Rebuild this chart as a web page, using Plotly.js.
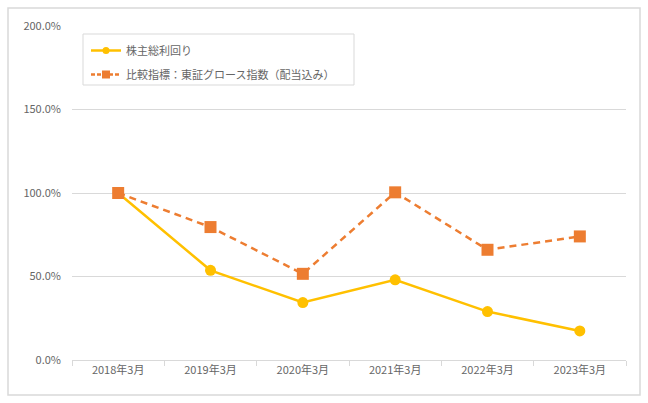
<!DOCTYPE html>
<html>
<head>
<meta charset="utf-8">
<script src="https://cdn.plot.ly/plotly-3.0.1.min.js"></script>
<style>
  html, body { margin: 0; padding: 0; background: #fff; }
  #chart { width: 648px; height: 403px; }
</style>
</head>
<body>
<div id="chart"></div>
<script>
// Categories (fiscal year end) and the two index series, in percent
const periods = ["2018年3月", "2019年3月", "2020年3月", "2021年3月", "2022年3月", "2023年3月"];
const tsrValues = [100, 53.7, 34.4, 48.0, 29.0, 17.4];
const benchmarkValues = [100, 79.6, 51.6, 100.4, 66.0, 74.0];
const yTicks = [0, 50, 100, 150, 200];
const yTickText = yTicks.map((v) => v.toFixed(1) + "%");

const tsrName = "株主総利回り";
const benchName = "比較指標：東証グロース指数（配当込み）";

const FONT = "'Noto Sans CJK JP', 'Noto Sans', sans-serif";
const TEXT = "#666666";
const GRID = "#D9D9D9";
const YELLOW = "#FFC000";
const ORANGE = "#ED7D31";

// plot area in pixels, used to place frame boxes in paper coords
const W = 648, H = 403;
const margin = { l: 72, r: 22, t: 26, b: 43 };
const pw = W - margin.l - margin.r;
const ph = H - margin.t - margin.b;
const px = (x) => (x - margin.l) / pw;
const py = (y) => (H - margin.b - y) / ph;

const traces = [
  {
    x: periods,
    y: tsrValues,
    name: tsrName,
    mode: "lines+markers",
    line: { color: YELLOW, width: 2.5 },
    marker: { symbol: "circle", size: 11, color: YELLOW },
    showlegend: false,
  },
  {
    x: periods,
    y: benchmarkValues,
    name: benchName,
    mode: "lines+markers",
    line: { color: ORANGE, width: 2.5, dash: "7px,5px" },
    marker: { symbol: "square", size: 12, color: ORANGE },
    showlegend: false,
  },
  // legend-only entries with smaller symbols, like the spreadsheet legend
  {
    x: [null], y: [null], name: tsrName, legendgroup: "a",
    mode: "lines+markers",
    line: { color: YELLOW, width: 2.5 },
    marker: { symbol: "circle", size: 7, color: YELLOW },
  },
  {
    x: [null], y: [null], name: benchName, legendgroup: "b",
    mode: "lines+markers",
    line: { color: ORANGE, width: 2.5, dash: "4px,2px" },
    marker: { symbol: "square", size: 8, color: ORANGE },
  },
];

const layout = {
  width: W,
  height: H,
  margin: margin,
  paper_bgcolor: "#fff",
  plot_bgcolor: "#fff",
  font: { family: FONT, color: TEXT, size: 11 },
  showlegend: true,
  legend: {
    x: px(86),
    y: py(36),
    xanchor: "left",
    yanchor: "top",
    bgcolor: "rgba(0,0,0,0)",
    borderwidth: 0,
    font: { family: FONT, color: TEXT, size: 11 },
    traceorder: "grouped",
    tracegroupgap: 5,
    itemwidth: 30,
  },
  xaxis: {
    type: "category",
    range: [-0.5, periods.length - 0.5],
    tickson: "boundaries",
    ticks: "outside",
    ticklen: 5,
    tickcolor: GRID,
    showline: true,
    linecolor: GRID,
    showgrid: false,
    zeroline: false,
    tickfont: { family: FONT, color: TEXT, size: 11 },
    fixedrange: true,
  },
  yaxis: {
    range: [0, 200],
    tickvals: yTicks,
    ticktext: yTickText,
    gridcolor: GRID,
    gridwidth: 1,
    showline: false,
    zeroline: false,
    ticks: "",
    ticklabelstandoff: 10,
    tickfont: { family: FONT, color: TEXT, size: 11 },
    fixedrange: true,
  },
  shapes: [
    // outer chart frame
    {
      type: "rect", xref: "paper", yref: "paper",
      x0: px(8), x1: px(640), y0: py(395), y1: py(8),
      line: { color: GRID, width: 1.5 },
      fillcolor: "rgba(0,0,0,0)",
      layer: "below",
    },
    // legend box
    {
      type: "rect", xref: "paper", yref: "paper",
      x0: px(83), x1: px(354), y0: py(85), y1: py(34),
      line: { color: GRID, width: 1 },
      fillcolor: "#fff",
      layer: "below",
    },
  ],
};

Plotly.newPlot("chart", traces, layout, { displayModeBar: false, staticPlot: true });
</script>
</body>
</html>
